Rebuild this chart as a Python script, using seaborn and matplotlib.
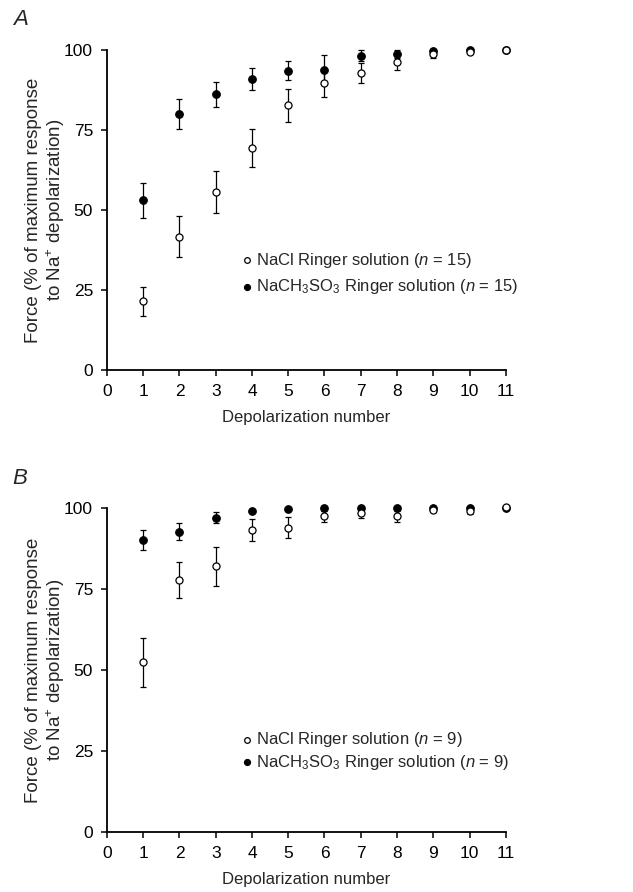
import numpy as np
import pandas as pd
import seaborn as sns
from matplotlib import pyplot as plt

# depolarization numbers
depol = [1, 2, 3, 4, 5, 6, 7, 8, 9, 10, 11]

# panel A (n = 15)
a_nacl = [21.5, 41.7, 55.7, 69.4, 82.7, 89.6, 92.8, 96.1, 98.7, 99.5, 100.0]
a_nacl_err = [4.5, 6.5, 6.5, 6.0, 5.2, 4.3, 3.0, 2.5, 1.2, 0.6, 0.0]
a_meth = [53.1, 80.0, 86.1, 91.0, 93.5, 93.8, 98.2, 98.7, 99.8, 100.0, 100.0]
a_meth_err = [5.5, 4.6, 4.0, 3.5, 3.0, 4.5, 1.8, 1.3, 0.4, 0.3, 0.0]

# panel B (n = 9)
b_nacl = [52.5, 77.9, 82.1, 93.3, 94.1, 97.7, 98.5, 97.7, 99.5, 99.2, 100.5]
b_nacl_err = [7.5, 5.5, 6.0, 3.5, 3.3, 2.0, 1.5, 2.0, 0.5, 1.0, 0.0]
b_meth = [90.3, 92.8, 97.2, 99.3, 99.9, 100.0, 100.0, 100.0, 100.0, 100.0, 100.0]
b_meth_err = [3.0, 2.6, 1.7, 0.5, 0.3, 0.8, 0.8, 0.8, 0.3, 0.3, 0.0]

panels = [
    ("A", a_nacl, a_nacl_err, a_meth, a_meth_err, 15),
    ("B", b_nacl, b_nacl_err, b_meth, b_meth_err, 9),
]

sns.set_theme(style="ticks")
plt.rcParams['font.family'] = ['Liberation Sans', 'DejaVu Sans']
plt.rcParams['mathtext.fontset'] = 'custom'
plt.rcParams['mathtext.rm'] = 'Liberation Sans'
plt.rcParams['mathtext.it'] = 'Liberation Sans:italic'

fig = plt.figure(figsize=(6.33, 8.92), dpi=100)
axes_pos = [[0.169, 0.585, 0.630, 0.359], [0.169, 0.067, 0.630, 0.363]]
leg_y = [0.302, 0.251]
leg_space = [0.45, 0.2]

for i, (letter, nacl, nacl_err, meth, meth_err, n) in enumerate(panels):
    ax = fig.add_axes(axes_pos[i])
    df = pd.DataFrame({
        "x": depol * 2,
        "y": meth + nacl,
        "err": meth_err + nacl_err,
        "sol": ["meth"] * len(depol) + ["nacl"] * len(depol),
    })
    for sol in ["meth", "nacl"]:
        d = df[df["sol"] == sol]
        ax.errorbar(d["x"], d["y"], yerr=d["err"], fmt="none", ecolor="black",
                    elinewidth=0.9, capsize=2.5, capthick=0.9, zorder=2, clip_on=False)
    lab_nacl = "NaCl Ringer solution ($\\it{n}$ = %d)" % n
    lab_meth = "NaCH$_3$SO$_3$ Ringer solution ($\\it{n}$ = %d)" % n
    d = df[df["sol"] == "meth"]
    sns.scatterplot(x=d["x"], y=d["y"], ax=ax, color="black", edgecolor="black",
                    s=30, linewidth=0.8, zorder=3, clip_on=False, label=lab_meth)
    d = df[df["sol"] == "nacl"]
    sns.scatterplot(x=d["x"], y=d["y"], ax=ax, color="white", edgecolor="black",
                    s=26, linewidth=0.9, zorder=4, clip_on=False, label=lab_nacl)

    ax.set_xlim(0, 11)
    ax.set_ylim(0, 100)
    ax.set_xticks(range(0, 12))
    ax.set_yticks([0, 25, 50, 75, 100])
    sns.despine(ax=ax)
    for s in ["left", "bottom"]:
        ax.spines[s].set_linewidth(1.3)
        ax.spines[s].set_color("black")
    ax.tick_params(direction="out", length=4, width=1.1, colors="black",
                   labelsize=12.5, pad=6)
    ax.set_xlabel("Depolarization number", fontsize=12, labelpad=8)
    ax.set_ylabel("Force (% of maximum response\nto Na$^{+}$ depolarization)",
                  fontsize=13.5, linespacing=1.15)
    ax.yaxis.set_label_coords(-0.1, 0.5)

    handles, labels = ax.get_legend_handles_labels()
    ax.legend(handles[::-1], labels[::-1], loc="center left",
              bbox_to_anchor=(0.31, leg_y[i]), frameon=False, fontsize=12,
              handletextpad=0.05, handlelength=1.0, borderpad=0,
              labelspacing=leg_space[i], markerscale=0.8)

    fig.text(0.02, axes_pos[i][1] + axes_pos[i][3] + 0.022, letter,
             fontsize=16, style="italic", ha="left", va="bottom")

fig.savefig("out.png", dpi=100)
